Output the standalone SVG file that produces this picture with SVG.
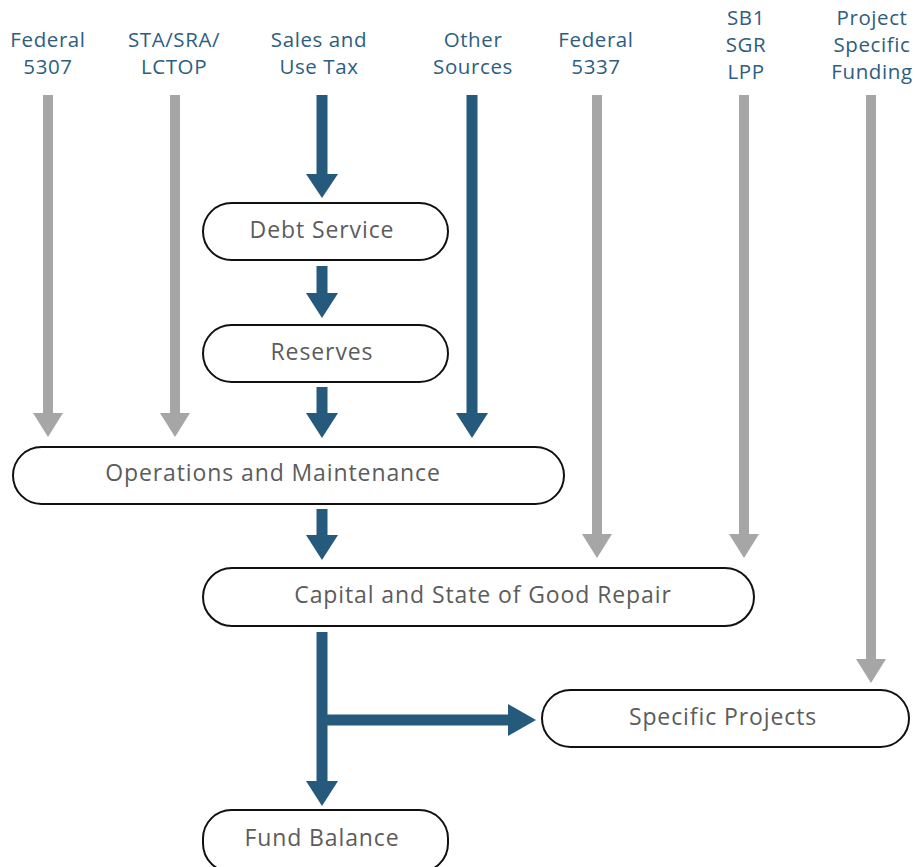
<svg xmlns="http://www.w3.org/2000/svg" width="915" height="867" viewBox="0 0 915 867">
<defs>
<style>
.src{font-family:"Open Sans",Lato,sans-serif;font-size:20.5px;letter-spacing:0.6px;fill:#2d5e80;text-anchor:middle}
.node rect{fill:#fff;stroke:#111;stroke-width:2}
.node text{font-family:"Open Sans",Lato,sans-serif;font-size:23px;letter-spacing:0.9px;fill:#5c5c5c;text-anchor:middle}
.blue{fill:#265a7c}
.gray{fill:#a6a6a6}
</style>
</defs>
<rect width="915" height="867" fill="#fff"/>
<g id="sources">
<text class="src" x="48" y="47">Federal</text><text class="src" x="48" y="74">5307</text>
<text class="src" x="174" y="47">STA/SRA/</text><text class="src" x="174" y="74">LCTOP</text>
<text class="src" x="319" y="47">Sales and</text><text class="src" x="319" y="74">Use Tax</text>
<text class="src" x="473" y="47">Other</text><text class="src" x="473" y="74">Sources</text>
<text class="src" x="596" y="47">Federal</text><text class="src" x="596" y="74">5337</text>
<text class="src" x="746" y="25">SB1</text><text class="src" x="746" y="52">SGR</text><text class="src" x="746" y="79">LPP</text>
<text class="src" x="872" y="25">Project</text><text class="src" x="872" y="52">Specific</text><text class="src" x="872" y="79">Funding</text>
</g>
<g id="connectors">
<path class="gray" d="M43,95 H53 V413 H63 L48,437 L33,413 H43 Z"/>
<path class="gray" d="M170,95 H180 V413 H190 L175,437 L160,413 H170 Z"/>
<path class="gray" d="M592,95 H602 V534 H612 L597,558 L582,534 H592 Z"/>
<path class="gray" d="M739,95 H749 V534 H759 L744,558 L729,534 H739 Z"/>
<path class="gray" d="M866,95 H876 V659 H886 L871,683 L856,659 H866 Z"/>
<path class="blue" d="M316.5,95 H327.5 V174 H338 L322,198 L306,174 H316.5 Z"/>
<path class="blue" d="M316.5,266 H327.5 V293 H338 L322,318 L306,293 H316.5 Z"/>
<path class="blue" d="M316.5,387 H327.5 V413 H338 L322,438 L306,413 H316.5 Z"/>
<path class="blue" d="M466.5,95 H477.5 V413 H488 L472,438 L456,413 H466.5 Z"/>
<path class="blue" d="M316.5,509 H327.5 V535 H338 L322,560 L306,535 H316.5 Z"/>
<path class="blue" d="M316.5,632 H327.5 V714.5 H508 V704 L536,720 L508,736 V725.5 H327.5 V781 H338 L322,806 L306,781 H316.5 Z"/>
</g>
<g id="debt-service" class="node"><rect x="203" y="203" width="245" height="57" rx="28.5"/><text x="322" y="238">Debt Service</text></g>
<g id="reserves" class="node"><rect x="203" y="325" width="245" height="57" rx="28.5"/><text x="322" y="360">Reserves</text></g>
<g id="operations" class="node"><rect x="13" y="447" width="551" height="57" rx="28.5"/><text x="273" y="481">Operations and Maintenance</text></g>
<g id="capital" class="node"><rect x="203" y="568" width="551" height="58" rx="29"/><text x="483" y="603">Capital and State of Good Repair</text></g>
<g id="specific-projects" class="node"><rect x="542" y="690" width="367" height="57" rx="28.5"/><text x="723" y="725">Specific Projects</text></g>
<g id="fund-balance" class="node"><rect x="203" y="810" width="245" height="62" rx="28.5"/><text x="322" y="846">Fund Balance</text></g>
</svg>
